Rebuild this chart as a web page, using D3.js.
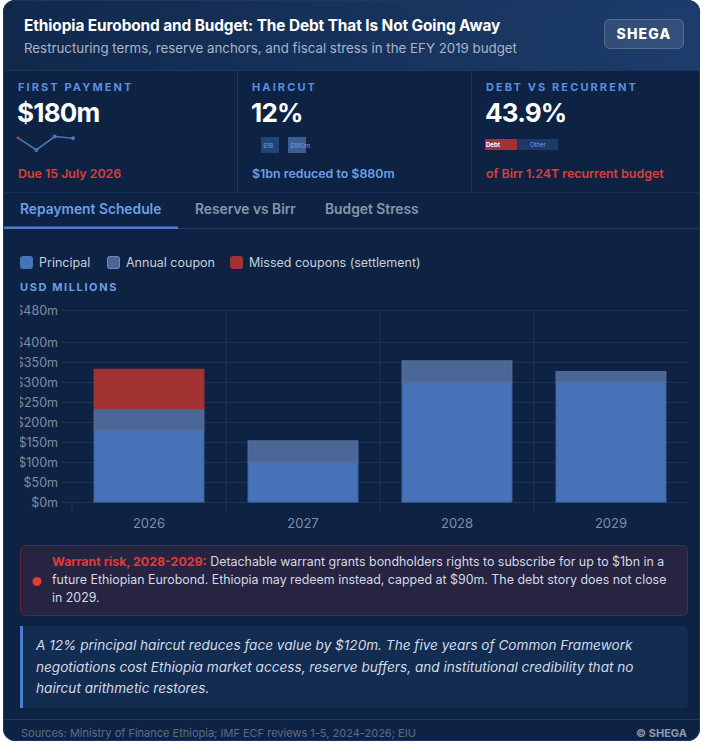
<!DOCTYPE html>
<html>
<head>
<meta charset="utf-8">
<script src="https://cdn.jsdelivr.net/npm/d3@7/dist/d3.min.js"></script>
<style>
  html, body { margin: 0; padding: 0; background: #ffffff; }
  svg { display: block; font-family: Inter, "Noto Sans", sans-serif; }
</style>
</head>
<body>
<div id="chart"></div>
<script>
'use strict';

// chart data
var years = ['2026', '2027', '2028', '2029'];
var principal = [180, 100, 300, 300];
var coupon = [53, 53, 53, 26];
var missed = [99, 0, 0, 0];
var yTicks = [0, 50, 100, 150, 200, 250, 300, 350, 400, 480];

var seriesNames = ['Principal', 'Annual coupon', 'Missed coupons (settlement)'];
var seriesKeys = ['principal', 'coupon', 'missed'];
var seriesFill = ['#4672b8', '#4a6694', '#a33333'];
var seriesStroke = ['#3f68ab', '#56719c', '#a33333'];

var tabs = ['Repayment Schedule', 'Reserve vs Birr', 'Budget Stress'];

var warningLines = [
  ['Warrant risk, 2028-2029:', ' Detachable warrant grants bondholders rights to subscribe for up to $1bn in a'],
  ['', 'future Ethiopian Eurobond. Ethiopia may redeem instead, capped at $90m. The debt story does not close'],
  ['', 'in 2029.']
];
var noteLines = [
  'A 12% principal haircut reduces face value by $120m. The five years of Common Framework',
  'negotiations cost Ethiopia market access, reserve buffers, and institutional credibility that no',
  'haircut arithmetic restores.'
];

var W = 702, H = 742;
var svg = d3.select('#chart').append('svg').attr('width', W).attr('height', H);
var defs = svg.append('defs');

var grad = defs.append('linearGradient').attr('id', 'hdr').attr('x1', '0%').attr('x2', '100%');
grad.append('stop').attr('offset', '0%').attr('stop-color', '#10284b');
grad.append('stop').attr('offset', '100%').attr('stop-color', '#1d3c6c');

defs.append('clipPath').attr('id', 'cardClip').append('rect')
  .attr('x', 3).attr('y', 0).attr('width', 697).attr('height', 741).attr('rx', 12);
defs.append('clipPath').attr('id', 'plotClip').append('rect')
  .attr('x', 20).attr('y', 290).attr('width', 680).attr('height', 250);

// card
svg.append('rect').attr('x', 3).attr('y', 0).attr('width', 697).attr('height', 741).attr('rx', 12)
  .attr('fill', '#0e2343');
var card = svg.append('g').attr('clip-path', 'url(#cardClip)');

// header
card.append('rect').attr('x', 0).attr('y', 0).attr('width', W).attr('height', 70).attr('fill', 'url(#hdr)');
card.append('line').attr('x1', 0).attr('x2', W).attr('y1', 70.5).attr('y2', 70.5).attr('stroke', '#1c3559');
card.append('text').attr('x', 24).attr('y', 31).attr('fill', '#ffffff').attr('font-size', 15.4).attr('font-weight', 700)
  .attr('letter-spacing', -0.1).text('Ethiopia Eurobond and Budget: The Debt That Is Not Going Away');
card.append('text').attr('x', 24).attr('y', 53).attr('fill', '#a9b5c9').attr('font-size', 13.3)
  .text('Restructuring terms, reserve anchors, and fiscal stress in the EFY 2019 budget');
card.append('rect').attr('x', 604.5).attr('y', 19.5).attr('width', 79).attr('height', 29).attr('rx', 5)
  .attr('fill', 'rgba(255,255,255,0.1)').attr('stroke', 'rgba(255,255,255,0.22)');
card.append('text').attr('x', 644).attr('y', 39).attr('text-anchor', 'middle').attr('fill', '#ffffff')
  .attr('font-size', 14).attr('font-weight', 800).attr('letter-spacing', 1.2).text('SHEGA');

// KPI cards
var kpis = [
  { x: 18, label: 'FIRST PAYMENT', value: '$180m', note: 'Due 15 July 2026', noteColor: '#e03b3b' },
  { x: 252, label: 'HAIRCUT', value: '12%', note: '$1bn reduced to $880m', noteColor: '#6c9fe6' },
  { x: 486, label: 'DEBT VS RECURRENT', value: '43.9%', note: 'of Birr 1.24T recurrent budget', noteColor: '#e03b3b' }
];
[237, 471].forEach(function (x) {
  card.append('line').attr('x1', x + 0.5).attr('x2', x + 0.5).attr('y1', 71).attr('y2', 192).attr('stroke', '#1d3760');
});
kpis.forEach(function (k) {
  card.append('text').attr('x', k.x).attr('y', 91).attr('fill', '#5b8ee0').attr('font-size', 11)
    .attr('font-weight', 700).attr('letter-spacing', 2.1).text(k.label);
  card.append('text').attr('x', k.x - 1).attr('y', 122).attr('fill', '#ffffff').attr('font-size', 26)
    .attr('font-weight', 700).attr('letter-spacing', -0.8).text(k.value);
  card.append('text').attr('x', k.x).attr('y', 178).attr('fill', k.noteColor).attr('font-size', 12.4)
    .attr('font-weight', 600).text(k.note);
});

// sparkline of yearly totals
var totals = years.map(function (y, i) { return principal[i] + coupon[i] + missed[i]; });
var sx = d3.scalePoint().domain(years).range([18, 73]);
var sy = d3.scaleLinear().domain(d3.extent(totals)).range([150, 136.5]);
card.append('path').datum(totals)
  .attr('d', d3.line().x(function (d, i) { return sx(years[i]); }).y(function (d) { return sy(d); }))
  .attr('fill', 'none').attr('stroke', '#4b74bb').attr('stroke-width', 1.6);
card.selectAll('.spark-dot').data(totals).enter().append('circle')
  .attr('cx', function (d, i) { return sx(years[i]); }).attr('cy', function (d) { return sy(d); })
  .attr('r', function (d, i) { return i === 0 ? 1.4 : 2; })
  .attr('fill', function (d, i) { return i === 0 ? '#d03a3a' : '#4b74bb'; });

// haircut mini boxes
card.append('rect').attr('x', 261).attr('y', 137).attr('width', 18).attr('height', 16).attr('fill', '#21447a');
card.append('text').attr('x', 263).attr('y', 147.5).attr('fill', '#6c9fe6').attr('font-size', 6).text('$1B');
card.append('rect').attr('x', 288).attr('y', 137).attr('width', 18).attr('height', 16).attr('fill', '#3b5d92');
card.append('text').attr('x', 290).attr('y', 147.5).attr('fill', '#6c9fe6').attr('font-size', 6).text('$880m');

// debt vs other bar
var share = 43.9;
var bx = d3.scaleLinear().domain([0, 100]).range([485, 558]);
card.append('rect').attr('x', bx(0)).attr('y', 139).attr('width', bx(share) - bx(0)).attr('height', 11).attr('fill', '#a33333');
card.append('rect').attr('x', bx(share)).attr('y', 139).attr('width', bx(100) - bx(share)).attr('height', 11).attr('fill', '#1d3a68');
card.append('text').attr('x', 486).attr('y', 147).attr('fill', '#ffffff').attr('font-size', 6).attr('font-weight', 700).text('Debt');
card.append('text').attr('x', 530).attr('y', 147).attr('fill', '#6c9fe6').attr('font-size', 6).text('Other');

// tabs
card.append('line').attr('x1', 0).attr('x2', W).attr('y1', 192.5).attr('y2', 192.5).attr('stroke', '#16305a');
card.append('line').attr('x1', 0).attr('x2', W).attr('y1', 228.5).attr('y2', 228.5).attr('stroke', '#1f3b66');
var tabX = [20, 195, 325];
tabs.forEach(function (t, i) {
  card.append('text').attr('x', tabX[i]).attr('y', 214).attr('font-size', 13.8).attr('font-weight', 600)
    .attr('fill', i === 0 ? '#6c9fe6' : '#8796ab').text(t);
});
card.append('rect').attr('x', 3).attr('y', 226.5).attr('width', 175).attr('height', 2.5).attr('fill', '#4a7fd0');

// legend
var legX = [20, 107, 230];
seriesNames.forEach(function (n, i) {
  card.append('rect').attr('x', legX[i] + 0.5).attr('y', 256.5).attr('width', 12).attr('height', 12).attr('rx', 2)
    .attr('fill', seriesFill[i]).attr('stroke', i === 1 ? '#6d8bbd' : seriesFill[i]);
  card.append('text').attr('x', legX[i] + 19).attr('y', 267).attr('font-size', 12.5).attr('fill', '#c5cfdd').text(n);
});
card.append('text').attr('x', 20).attr('y', 291).attr('font-size', 11).attr('font-weight', 700)
  .attr('letter-spacing', 1.6).attr('fill', '#6c9fe6').text('USD MILLIONS');

// bar chart
var plot = card.append('g').attr('clip-path', 'url(#plotClip)');
var x = d3.scaleBand().domain(years).range([72, 688]).paddingInner(0.28).paddingOuter(0.14);
var y = d3.scaleLinear().domain([0, 480]).range([502, 310]);
var gridColor = '#1a3459';

var gy = plot.append('g').attr('transform', 'translate(62,0)')
  .call(d3.axisRight(y).tickValues(yTicks).tickSize(626).tickFormat(''));
gy.select('.domain').remove();
gy.selectAll('line').attr('stroke', gridColor);

var gl = plot.append('g').attr('transform', 'translate(62,0)')
  .call(d3.axisLeft(y).tickValues(yTicks).tickSize(0).tickPadding(4).tickFormat(function (d) { return '$' + d + 'm'; }));
gl.select('.domain').remove();
gl.selectAll('text').attr('fill', '#7e8da5').attr('font-size', 12.5).attr('font-family', 'Inter, sans-serif');

var step = x.step();
var gap = (step - x.bandwidth()) / 2;
years.forEach(function (yr, i) {
  var bxPos = x(yr) - gap;
  plot.append('line').attr('x1', bxPos).attr('x2', bxPos)
    .attr('y1', i === 0 ? y(0) : y(480)).attr('y2', y(0) + 10).attr('stroke', gridColor);
});

var stackData = years.map(function (yr, i) {
  return { year: yr, principal: principal[i], coupon: coupon[i], missed: missed[i] };
});
var stacked = d3.stack().keys(seriesKeys)(stackData);
stacked.forEach(function (layer, li) {
  plot.selectAll('.bar-' + li).data(layer.filter(function (d) { return d[1] > d[0]; })).enter().append('rect')
    .attr('x', function (d) { return x(d.data.year) + 0.5; })
    .attr('width', x.bandwidth() - 1)
    .attr('y', function (d) { return y(d[1]); })
    .attr('height', function (d) { return y(d[0]) - y(d[1]); })
    .attr('fill', seriesFill[li]).attr('stroke', seriesStroke[li]).attr('stroke-width', 1);
});

var gx = plot.append('g').attr('transform', 'translate(0,' + y(0) + ')')
  .call(d3.axisBottom(x).tickSize(0).tickPadding(17));
gx.select('.domain').remove();
gx.selectAll('text').attr('fill', '#7e8da5').attr('font-size', 13).attr('font-family', 'Inter, sans-serif');

// warning box
card.append('rect').attr('x', 20.5).attr('y', 545.5).attr('width', 667).attr('height', 70).attr('rx', 5)
  .attr('fill', '#262440').attr('stroke', '#5e2637');
card.append('circle').attr('cx', 37).attr('cy', 581.5).attr('r', 4.5).attr('fill', '#e03b3b');
warningLines.forEach(function (ln, i) {
  var t = card.append('text').attr('x', 52).attr('y', 566 + i * 18).attr('font-size', 12.4).attr('fill', '#d3dae5');
  if (ln[0]) t.append('tspan').attr('font-weight', 700).attr('fill', '#e03b3b').text(ln[0]);
  t.append('tspan').text(ln[1]);
});

// note box
card.append('rect').attr('x', 20).attr('y', 626).attr('width', 668).attr('height', 82).attr('rx', 5).attr('fill', '#132c52');
card.append('rect').attr('x', 20).attr('y', 626).attr('width', 3).attr('height', 82).attr('fill', '#4a7fd0');
noteLines.forEach(function (ln, i) {
  card.append('text').attr('x', 36).attr('y', 650 + i * 21.5).attr('font-size', 13.6).attr('font-style', 'italic')
    .attr('fill', '#d3dae5').text(ln);
});

// footer
card.append('line').attr('x1', 0).attr('x2', W).attr('y1', 719.5).attr('y2', 719.5).attr('stroke', '#1f3a63');
card.append('text').attr('x', 21).attr('y', 737).attr('font-size', 11).attr('fill', '#5c6c87')
  .text('Sources: Ministry of Finance Ethiopia; IMF ECF reviews 1-5, 2024-2026; EIU');
card.append('text').attr('x', 687).attr('y', 737).attr('text-anchor', 'end').attr('font-size', 11).attr('font-weight', 700)
  .attr('fill', '#8c9ab0').text('\u00a9 SHEGA');

svg.append('rect').attr('x', 3.5).attr('y', 0.5).attr('width', 696).attr('height', 740).attr('rx', 12)
  .attr('fill', 'none').attr('stroke', '#1e3760');
</script>
</body>
</html>
